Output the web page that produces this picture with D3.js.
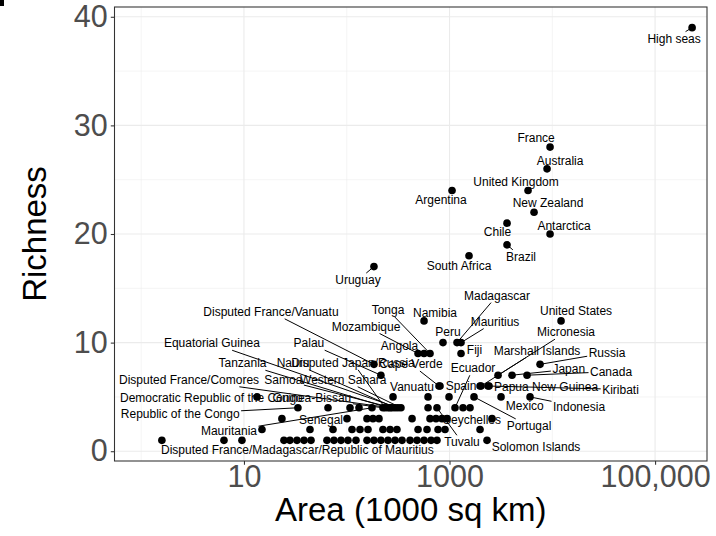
<!DOCTYPE html>
<html><head><meta charset="utf-8">
<script src="https://cdn.jsdelivr.net/npm/d3@7"></script>
<style>body{margin:0;background:#fff} text{font-family:"Liberation Sans", Arial, sans-serif}</style>
</head><body><svg id="c" width="716" height="536"></svg>
<script>
// ---- data (area in 1000 sq km, richness) ----
const country = [
 // richness 1
 "Disputed France/Madagascar/Republic of Mauritius","","","","","","","","","","","","","","","","","","","","","","","","Solomon Islands",
 // richness 2
 "","","","","","","","","","","","","","",
 // richness 3
 "","Senegal","","","","","","","","","Seychelles",
 // richness 4
 "Republic of the Congo","","","","Mauritania","Guinea-Bissau","Disputed Japan/Russia","Tanzania","Disputed France/Comores","Samoa","Nauru","Equatorial Guinea","Western Sahara","","Tuvalu","Ecuador","","",
 // richness 5
 "Democratic Republic of the Congo","","","","Portugal","Mexico","Indonesia",
 // richness 6
 "Cape Verde","Vanuatu","Spain","Marshall Islands","Papua New Guinea","Kiribati",
 // richness 7
 "Palau","Micronesia","Japan","Canada",
 // richness 8
 "Disputed France/Vanuatu","Russia",
 // richness 9
 "Mozambique","Angola","Tonga","Fiji",
 // richness 10
 "Peru","Madagascar","Mauritius",
 // richness 12
 "Namibia","United States",
 // higher
 "Uruguay","South Africa","Brazil","Antarctica","Chile","New Zealand","Argentina","United Kingdom","Australia","France","High seas"
];
const area = [
 1.59,6.39,9.56,24.5,28.0,32.8,38.4,44.9,64.2,75.1,87.9,102.8,123,157.4,184,215,252,295,345,413,483,565,661,755,2317,
 14.97,43.9,73.5,112.5,134.6,161,225,264,308,494,604,773,904,1981,
 23.4,100.6,157.4,180,206,432,646,739,845,946,2592,
 33.5,65.7,107.6,131.6,176,225,236,252,264,276,295,315,337,618,755,1131,1353,1583,
 13.4,282,618,989,1731,3171,6073,
 790,808,1981,2025,2370,2424,
 215,2965,4057,5679,
 184,7599,
 494,565,646,1294,
 864,1183,1294,
 565,12166,
 184,1548,3627,9509,3627,6643,1058,5807,8890,9509,229200
];
const richness = [
 1,1,1,1,1,1,1,1,1,1,1,1,1,1,1,1,1,1,1,1,1,1,1,1,1,
 2,2,2,2,2,2,2,2,2,2,2,2,2,2,
 3,3,3,3,3,3,3,3,3,3,3,
 4,4,4,4,4,4,4,4,4,4,4,4,4,4,4,4,4,4,
 5,5,5,5,5,5,5,
 6,6,6,6,6,6,
 7,7,7,7,
 8,8,
 9,9,9,9,
 10,10,10,
 12,12,
 17,18,19,20,21,22,24,24,26,28,39
];
const xTicks = [10, 1000, 100000];
const xTickLabels = ["10", "1000", "100,000"];
const xMinor = [1, 100, 10000];
const yTicks = [0, 10, 20, 30, 40];
const yMinor = [5, 15, 25, 35];

// label placement (repel result, pixel offsets from the point)
const labelNudge = {
 "High seas":[-18,11],"France":[-14,-9],"Australia":[13,-8],"United Kingdom":[-12,-9],
 "Argentina":[-11,9.5],"New Zealand":[14,-9.5],"Chile":[-9.5,8.5],"Antarctica":[14,-8.5],
 "Brazil":[14,12],"South Africa":[-10,10],"Uruguay":[-16,13.5],
 "Madagascar":[40,-47],"United States":[15,-10],"Namibia":[11,-8.5],"Tonga":[-42,-43.5],
 "Mauritius":[34,-21],"Mozambique":[-52,-27],"Peru":[5,-11],"Micronesia":[68,-43],
 "Angola":[-24.5,-8],"Fiji":[13.5,-4],"Marshall Islands":[56,-35.5],"Russia":[67,-11.5],
 "Ecuador":[18,-39.5],"Cape Verde":[-28,-22],"Disputed Japan/Russia":[-32,-45],
 "Nauru":[-102,-45],"Equatorial Guinea":[-186,-64.5],"Palau":[-72,-32],
 "Disputed France/Vanuatu":[-103,-52.5],"Tanzania":[-145.5,-44.5],
 "Disputed France/Comores":[-201,-28],"Samoa":[-108.7,-28],"Western Sahara":[-57.7,-28],
 "Democratic Republic of the Congo":[-45.6,0.4],"Guinea-Bissau":[-71,-9.5],
 "Republic of the Congo":[-117.7,6.2],"Senegal":[-26,1.4],"Mauritania":[-143,23.2],
 "Disputed France/Madagascar/Republic of Mauritius":[135.5,9.2],"Vanuatu":[-28,0.7],
 "Spain":[-19,0],"Papua New Guinea":[58,0.7],"Kiribati":[131.5,3.3],"Japan":[56.7,-6],
 "Canada":[84,-3.5],"Mexico":[23.7,9],"Indonesia":[49,10],"Seychelles":[-20,0.7],
 "Portugal":[55,29],"Tuvalu":[25,34.5],"Solomon Islands":[49,6.4]
};
const noSegment = ["Disputed France/Madagascar/Republic of Mauritius"];

const data = country.map((c,i)=>({name:c, area:area[i], rich:richness[i]}));

const svg = d3.select("#c");
const L=114.5, R=707, T=7, B=461;
const x = d3.scaleLog().domain([0.55, 320000]).range([L, R]);
const y = d3.scaleLinear().domain([-0.9, 40.9]).range([B, T]);

// small mark in the top-left corner of the reference
svg.append("rect").attr("x",0).attr("y",0).attr("width",4).attr("height",6).attr("fill","#000");

// grid
const g = svg.append("g");
g.selectAll(".mx").data(xMinor).join("line")
 .attr("x1",d=>x(d)).attr("x2",d=>x(d)).attr("y1",T).attr("y2",B)
 .attr("stroke","#EBEBEB").attr("stroke-width",0.55);
g.selectAll(".my").data(yMinor).join("line")
 .attr("y1",d=>y(d)).attr("y2",d=>y(d)).attr("x1",L).attr("x2",R)
 .attr("stroke","#EBEBEB").attr("stroke-width",0.55);
g.selectAll(".Mx").data(xTicks).join("line")
 .attr("x1",d=>x(d)).attr("x2",d=>x(d)).attr("y1",T).attr("y2",B)
 .attr("stroke","#EBEBEB").attr("stroke-width",1.1);
g.selectAll(".My").data(yTicks).join("line")
 .attr("y1",d=>y(d)).attr("y2",d=>y(d)).attr("x1",L).attr("x2",R)
 .attr("stroke","#EBEBEB").attr("stroke-width",1.1);

// axes
const xa = svg.append("g").attr("transform",`translate(0,${B})`)
 .call(d3.axisBottom(x).tickValues(xTicks).tickFormat((d,i)=>xTickLabels[i]).tickSize(3.7).tickPadding(0.6));
const ya = svg.append("g").attr("transform",`translate(${L},0)`)
 .call(d3.axisLeft(y).tickValues(yTicks).tickFormat(d3.format("d")).tickSize(3.7).tickPadding(3.1));
[xa,ya].forEach(a=>{
 a.select(".domain").remove();
 a.selectAll(".tick line").attr("stroke","#333333").attr("stroke-width",1.07);
 a.selectAll(".tick text").attr("fill","#4D4D4D").style("font-size","30.5px")
  .style("font-family","'Liberation Sans', Arial, sans-serif");
});

// panel border
svg.append("rect").attr("x",L).attr("y",T).attr("width",R-L).attr("height",B-T)
 .attr("fill","none").attr("stroke","#333333").attr("stroke-width",1.07);

// points
svg.append("g").selectAll("circle").data(data).join("circle")
 .attr("cx",d=>x(d.area)).attr("cy",d=>y(d.rich)).attr("r",3.8).attr("fill","#000");

// labels + segments
const lab = svg.append("g");
const seg = svg.append("g");
data.filter(d=>d.name && labelNudge[d.name]).forEach(d=>{
 const px = x(d.area), py = y(d.rich);
 const [dx,dy] = labelNudge[d.name];
 const cx = px+dx, cy = py+dy;
 const t = lab.append("text").attr("x",cx).attr("y",cy).attr("text-anchor","middle")
  .attr("dy","0.35em").style("font-size","12px").attr("fill","#000").text(d.name);
 if (noSegment.includes(d.name)) return;
 const w = t.node().getComputedTextLength()/2 + 1.5, h = 7;
 const vx = px-cx, vy = py-cy;
 if (Math.abs(vx) <= w && Math.abs(vy) <= h) return;
 const s = Math.min(vx!==0 ? w/Math.abs(vx) : Infinity, vy!==0 ? h/Math.abs(vy) : Infinity);
 const sx = cx + vx*s, sy = cy + vy*s;
 const len = Math.hypot(px-sx, py-sy);
 if (len < 6) return;
 seg.append("line").attr("x1",sx).attr("y1",sy).attr("x2",px).attr("y2",py)
  .attr("stroke","#000").attr("stroke-width",1);
});

// titles
svg.append("text").attr("x",(L+R)/2).attr("y",521).attr("text-anchor","middle")
 .style("font-size","33px").attr("fill","#000").text("Area (1000 sq km)");
svg.append("text").attr("transform",`translate(46,${(T+B)/2}) rotate(-90)`).attr("text-anchor","middle")
 .style("font-size","33px").attr("fill","#000").text("Richness");
</script></body></html>
